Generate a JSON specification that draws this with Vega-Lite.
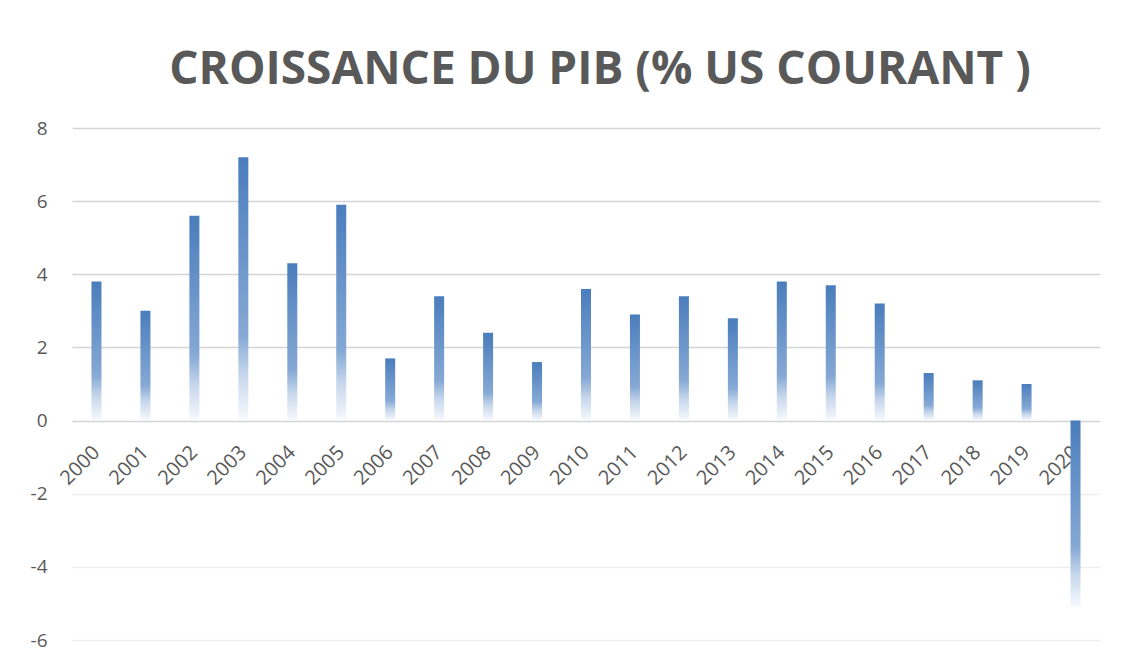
{
  "$schema": "https://vega.github.io/schema/vega-lite/v6.json",
  "autosize": {"type": "none"},
  "width": 1028,
  "height": 512,
  "padding": {"left": 72, "top": 128, "right": 21, "bottom": 28},
  "background": "white",
  "config": {"view": {"stroke": null}},
  "title": {
    "text": "CROISSANCE DU PIB (% US COURANT )",
    "font": "Open Sans",
    "fontSize": 46,
    "fontWeight": "bold",
    "color": "#595959",
    "anchor": "middle",
    "dx": 14,
    "offset": 25
  },
  "data": {
    "values": [
      {"year": "2000", "value": 3.8},
      {"year": "2001", "value": 3.0},
      {"year": "2002", "value": 5.6},
      {"year": "2003", "value": 7.2},
      {"year": "2004", "value": 4.3},
      {"year": "2005", "value": 5.9},
      {"year": "2006", "value": 1.7},
      {"year": "2007", "value": 3.4},
      {"year": "2008", "value": 2.4},
      {"year": "2009", "value": 1.6},
      {"year": "2010", "value": 3.6},
      {"year": "2011", "value": 2.9},
      {"year": "2012", "value": 3.4},
      {"year": "2013", "value": 2.8},
      {"year": "2014", "value": 3.8},
      {"year": "2015", "value": 3.7},
      {"year": "2016", "value": 3.2},
      {"year": "2017", "value": 1.3},
      {"year": "2018", "value": 1.1},
      {"year": "2019", "value": 1.0},
      {"year": "2020", "value": -5.1}
    ]
  },
  "mark": {
    "type": "bar",
    "size": 10,
    "fill": {
      "gradient": "linear",
      "x1": 0, "y1": 0, "x2": 0, "y2": 1,
      "stops": [
        {"offset": 0, "color": "#4a7dbc"},
        {"offset": 0.68, "color": "#86a9d5"},
        {"offset": 0.82, "color": "#c4d5eb"},
        {"offset": 1, "color": "#f8fafd"}
      ]
    }
  },
  "encoding": {
    "x": {
      "field": "year",
      "type": "nominal",
      "scale": {"paddingInner": 0, "paddingOuter": 0},
      "axis": {
        "title": null,
        "orient": "bottom",
        "offset": -219,
        "domain": false,
        "ticks": false,
        "labelAngle": -45,
        "labelAlign": "right",
        "labelBaseline": "middle",
        "labelPadding": 28,
        "labelFont": "Open Sans",
        "labelFontSize": 20,
        "labelColor": "#595959",
        "labelOverlap": false
      }
    },
    "y": {
      "field": "value",
      "type": "quantitative",
      "scale": {"domain": [-6, 8], "nice": false},
      "axis": {
        "title": null,
        "values": [-6, -4, -2, 0, 2, 4, 6, 8],
        "labelExpr": "replace(datum.label, '\u2212', '-')",
        "domain": false,
        "ticks": false,
        "labelPadding": 25,
        "labelFont": "Open Sans",
        "labelFontSize": 19,
        "labelColor": "#595959",
        "gridColor": {"condition": {"test": "datum.value < 0", "value": "#ededed"}, "value": "#d4d4d4"},
        "gridWidth": 1.5
      }
    }
  }
}
